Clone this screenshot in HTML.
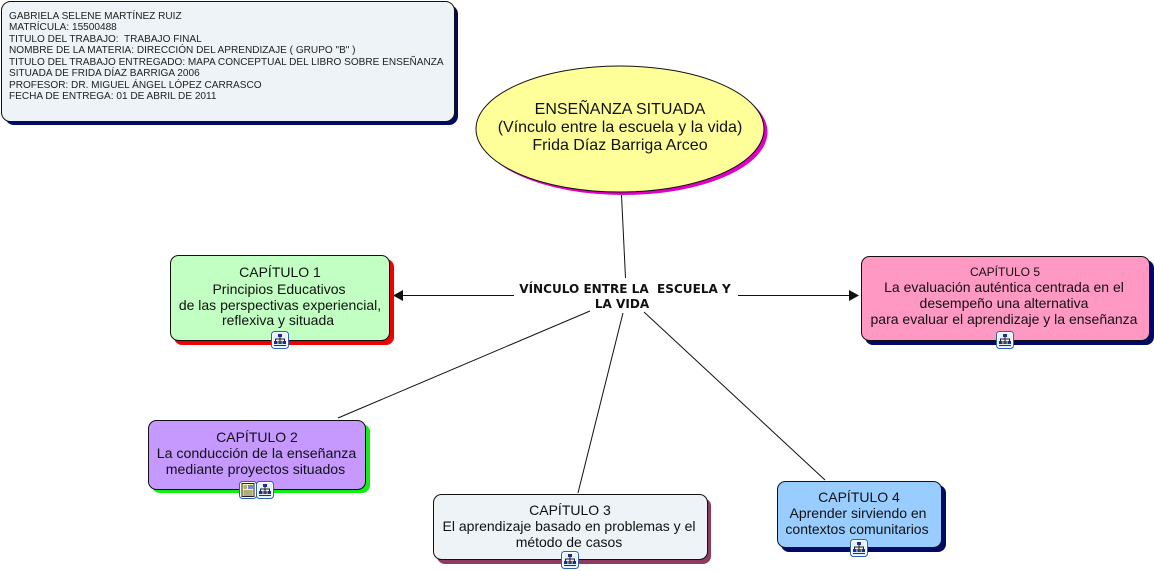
<!DOCTYPE html>
<html><head><meta charset="utf-8"><style>
html,body{margin:0;padding:0;background:#fff;width:1154px;height:571px;overflow:hidden}
svg{display:block}
text{font-family:"Liberation Sans",sans-serif;font-size:14px;fill:#111;text-anchor:middle}
.s{font-size:10.07px;text-anchor:start;fill:#222}
.c{font-family:"DejaVu Sans",sans-serif;font-weight:bold;font-size:12.05px;fill:#111}
</style></head><body>
<svg width="1154" height="571" viewBox="0 0 1154 571" xmlns="http://www.w3.org/2000/svg">
<defs>
<g id="map">
<rect x="0.5" y="0.5" width="17" height="17" rx="3" fill="#fff" stroke="#2a62b0"/>
<rect x="2" y="2" width="14" height="14" rx="2" fill="#e8f0fb"/>
<path d="M9 3V12M4.500 12V8H13.500V12" fill="none" stroke="#222"/>
<rect x="7" y="3" width="4" height="3" fill="#1c2f8c"/>
<rect x="3" y="10" width="3.500" height="3" fill="#1c2f8c"/>
<rect x="7.300" y="10" width="3.500" height="3" fill="#444"/>
<rect x="11.500" y="10" width="3.500" height="3" fill="#1c2f8c"/>
<path d="M3 14.500H15" stroke="#1c2f8c"/>
</g>
<g id="doc">
<rect x="0.5" y="0.5" width="17" height="17" rx="3" fill="#fff" stroke="#2a62b0"/>
<rect x="3" y="2.500" width="12" height="13" fill="#fbf5a8" stroke="#222"/>
<rect x="9" y="4" width="5" height="4" fill="#6a8fc8"/>
<path d="M4.500 5H8M4.500 7H8M4.500 10H13.500M4.500 12H13.500M4.500 14H13.500" stroke="#333" stroke-width="0.7"/>
</g>
</defs>

<!-- info box -->
<rect x="5" y="5" width="453" height="120" rx="9" fill="#000a66"/>
<rect x="1.500" y="1.500" width="453" height="120" rx="9" fill="#edf3f6" stroke="#111"/>
<text class="s" x="9" y="19">GABRIELA SELENE MARTÍNEZ RUIZ</text>
<text class="s" x="9" y="30">MATRÍCULA: 15500488</text>
<text class="s" x="9" y="42" xml:space="preserve">TITULO DEL TRABAJO:  TRABAJO FINAL</text>
<text class="s" x="9" y="53">NOMBRE DE LA MATERIA: DIRECCIÓN DEL APRENDIZAJE ( GRUPO "B" )</text>
<text class="s" x="9" y="65">TITULO DEL TRABAJO ENTREGADO: MAPA CONCEPTUAL DEL LIBRO SOBRE ENSEÑANZA</text>
<text class="s" x="9" y="76">SITUADA DE FRIDA DÍAZ BARRIGA 2006</text>
<text class="s" x="9" y="88">PROFESOR: DR. MIGUEL ÁNGEL LÓPEZ CARRASCO</text>
<text class="s" x="9" y="99">FECHA DE ENTREGA: 01 DE ABRIL DE 2011</text>

<!-- connectors -->
<g stroke="#111" stroke-width="1" fill="none">
<line x1="621.500" y1="195" x2="625.500" y2="278"/>
<line x1="590" y1="311" x2="338" y2="418"/>
<line x1="623" y1="313" x2="578" y2="493"/>
<line x1="644" y1="312" x2="825" y2="480"/>
<line x1="514" y1="295.500" x2="400" y2="295.500"/>
<line x1="738" y1="295.500" x2="852" y2="295.500"/>
</g>
<path d="M393 295.500L403 290V301Z" fill="#111"/>
<path d="M859 295.500L849 290V301Z" fill="#111"/>

<!-- root ellipse -->
<ellipse cx="623.500" cy="132" rx="144" ry="63" fill="#e000c8"/>
<ellipse cx="620" cy="129" rx="144" ry="63" fill="#ffff99" stroke="#111"/>
<text x="620" y="114" style="font-size:16px">ENSEÑANZA SITUADA</text>
<text x="620" y="132" style="font-size:16px">(Vínculo entre la escuela y la vida)</text>
<text x="620" y="150" style="font-size:16px">Frida Díaz Barriga Arceo</text>

<!-- center label -->
<text class="c" x="625" y="293" xml:space="preserve">VÍNCULO ENTRE LA  ESCUELA Y</text>
<text class="c" x="622" y="308">LA VIDA</text>

<!-- capitulo 1 -->
<rect x="174" y="259" width="220" height="86" rx="8" fill="#f00000"/>
<rect x="170.500" y="255.500" width="219" height="85" rx="8" fill="#c2ffc2" stroke="#111"/>
<text x="280" y="277">CAPÍTULO 1</text>
<text x="279" y="294">Principios Educativos</text>
<text x="280" y="310">de las perspectivas experiencial,</text>
<text x="278" y="325">reflexiva y situada</text>
<use href="#map" x="271" y="331"/>

<!-- capitulo 2 -->
<rect x="152" y="424" width="218" height="69" rx="8" fill="#11ee11"/>
<rect x="148.500" y="420.500" width="217" height="69" rx="8" fill="#c599ff" stroke="#111"/>
<text x="257" y="442">CAPÍTULO 2</text>
<text x="256.500" y="458" style="font-size:14.200px">La conducción de la enseñanza</text>
<text x="255.500" y="474" style="font-size:14.100px">mediante proyectos situados</text>
<use href="#doc" x="239" y="481"/>
<use href="#map" x="256" y="481"/>

<!-- capitulo 3 -->
<rect x="437" y="498" width="274" height="66" rx="8" fill="#8f3a60"/>
<rect x="433.500" y="494.500" width="274" height="65" rx="8" fill="#edf3f6" stroke="#111"/>
<text x="570" y="515">CAPÍTULO 3</text>
<text x="569" y="531">El aprendizaje basado en problemas y el</text>
<text x="569" y="547">método de casos</text>
<use href="#map" x="561" y="551"/>

<!-- capitulo 4 -->
<rect x="781" y="485" width="165" height="67" rx="8" fill="#000a66"/>
<rect x="777.500" y="481.500" width="164" height="66" rx="8" fill="#99ccff" stroke="#111"/>
<text x="859" y="502">CAPÍTULO 4</text>
<text x="858" y="518">Aprender sirviendo en</text>
<text x="857" y="534">contextos comunitarios</text>
<use href="#map" x="850" y="539"/>

<!-- capitulo 5 -->
<rect x="865" y="260" width="289" height="85" rx="8" fill="#000a66"/>
<rect x="861.500" y="256.500" width="288" height="84" rx="8" fill="#ff99c4" stroke="#111"/>
<text x="1005" y="276" style="font-size:12px">CAPÍTULO 5</text>
<text x="1004" y="292" style="font-size:14px">La evaluación auténtica centrada en el</text>
<text x="1004" y="308" style="font-size:14px">desempeño una alternativa</text>
<text x="1004" y="324" style="font-size:14px">para evaluar el aprendizaje y la enseñanza</text>
<use href="#map" x="996" y="331"/>
</svg>
</body></html>
